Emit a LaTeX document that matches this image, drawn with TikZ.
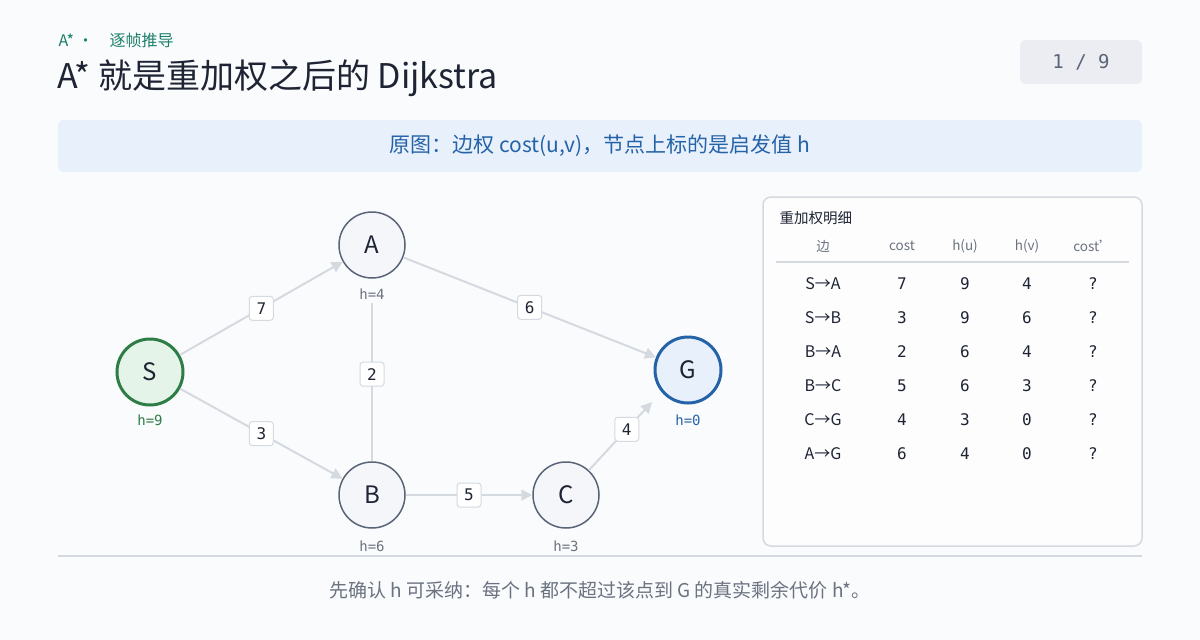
\documentclass[tikz,border=0pt]{standalone}
\usepackage{fontspec}
\setmainfont{Noto Sans CJK SC}
\setmonofont{DejaVu Sans Mono}
\usetikzlibrary{arrows.meta}
\definecolor{bgc}{HTML}{FAFBFC}
\definecolor{edgec}{HTML}{D5D9E0}
\definecolor{nodef}{HTML}{F4F6F9}
\definecolor{nodeb}{HTML}{5A6478}
\definecolor{startf}{HTML}{E5F4E8}
\definecolor{startb}{HTML}{2E7D46}
\definecolor{goalf}{HTML}{E8F0FC}
\definecolor{goalb}{HTML}{2563A8}
\definecolor{inkc}{HTML}{1E2433}
\definecolor{tealc}{HTML}{1A7F6B}
\definecolor{mutec}{HTML}{6B7280}
\tikzset{
  vtx/.style={circle, draw=nodeb, fill=nodef, line width=1.5pt, minimum size=66pt, inner sep=0pt, font=\fontsize{24}{24}\selectfont, text=inkc},
  hlab/.style={font=\ttfamily\fontsize{14}{14}\selectfont, text=mutec},
  wt/.style={draw=edgec, fill=white, rounded corners=3pt, line width=1pt, minimum width=24pt, minimum height=24pt, inner sep=0pt, font=\ttfamily\fontsize{16}{16}\selectfont, text=inkc},
  edg/.style={draw=edgec, line width=2pt, -{Triangle[length=11pt,width=11pt]}},
  cell/.style={font=\ttfamily\fontsize{16}{16}\selectfont, text=inkc},
  head/.style={font=\fontsize{13.5}{13.5}\selectfont, text=mutec}
}
\begin{document}
\begin{tikzpicture}[x=1pt,y=-1pt]
\fill[bgc] (0,0) rectangle (1200,640);
\useasboundingbox (0,0) rectangle (1200,640);

% header
\node[anchor=west, text=tealc, font=\fontsize{16}{16}\selectfont] (kicker) at (55,40) {A* ·\quad 逐帧推导};
\node[anchor=west, text=inkc, font=\fontsize{34}{34}\selectfont] (title) at (54,78) {A* 就是重加权之后的 Dijkstra};
\node[fill=nodef!70!edgec, rounded corners=6pt, minimum width=122pt, minimum height=44pt, text=nodeb, font=\ttfamily\fontsize{19}{19}\selectfont] (page) at (1081,62) {1 / 9};
\node[fill=goalf, rounded corners=6pt, minimum width=1084pt, minimum height=52pt, text=goalb, font=\fontsize{21}{21}\selectfont] (banner) at (600,146) {原图：边权 cost(u,v)，节点上标的是启发值 h};

% graph
\node[vtx, draw=startb, fill=startf, line width=3pt] (S) at (150,372) {S};
\node[vtx] (A) at (372,245) {A};
\node[vtx] (B) at (372,495) {B};
\node[vtx] (C) at (566,495) {C};
\node[vtx, draw=goalb, fill=goalf, line width=3pt] (G) at (688,370) {G};
\node[hlab, text=startb] (hS) at (150,420) {h=9};
\node[hlab] (hA) at (372,294) {h=4};
\node[hlab] (hB) at (372,546) {h=6};
\node[hlab] (hC) at (566,546) {h=3};
\node[hlab, text=goalb] (hG) at (688,420) {h=0};
\coordinate (cg) at (652,402);

\draw[edg] (S) -- node[wt] {7} (A);
\draw[edg] (S) -- node[wt] {3} (B);
\draw[edg] (A) -- node[wt, pos=0.5] {6} (G);
\draw[edg, -] (hA) -- node[wt, pos=0.45] {2} (B);
\draw[edg] (B) -- node[wt] {5} (C);
\draw[edg] (C) -- node[wt, pos=0.6] {4} (cg);

% table
\draw[draw=edgec, fill=white!60!bgc, line width=1.5pt, rounded corners=8pt] (763,197) rectangle (1142,546);
\node[anchor=west, text=inkc, font=\fontsize{14.5}{14.5}\selectfont] (ttl) at (776,218) {重加权明细};
\node[head] at (823,246) {边};
\node[head] at (902,246) {cost};
\node[head] at (965,246) {h(u)};
\node[head] at (1027,246) {h(v)};
\node[head] at (1093,246) {cost'};
\draw[edgec, line width=1.5pt] (776,262) -- (1129,262);
\foreach \e/\c/\u/\v [count=\i] in {S/7/9/4, S/3/9/6, B/2/6/4, B/5/6/3, C/4/3/0, A/6/4/0}{
  \node[cell] at (902,250+34*\i) {\c};
  \node[cell] at (965,250+34*\i) {\u};
  \node[cell] at (1027,250+34*\i) {\v};
  \node[cell] at (1093,250+34*\i) {?};
}
\foreach \lab [count=\i] in {S→A, S→B, B→A, B→C, C→G, A→G}{
  \node[text=inkc, font=\fontsize{16}{16}\selectfont] at (823,250+34*\i) {\lab};
}

% footer
\draw[edgec, line width=1.5pt] (58,556) -- (1142,556);
\node[text=mutec, font=\fontsize{19}{19}\selectfont] (foot) at (600,590) {先确认 h 可采纳：每个 h 都不超过该点到 G 的真实剩余代价 h*。};
\end{tikzpicture}
\end{document}
